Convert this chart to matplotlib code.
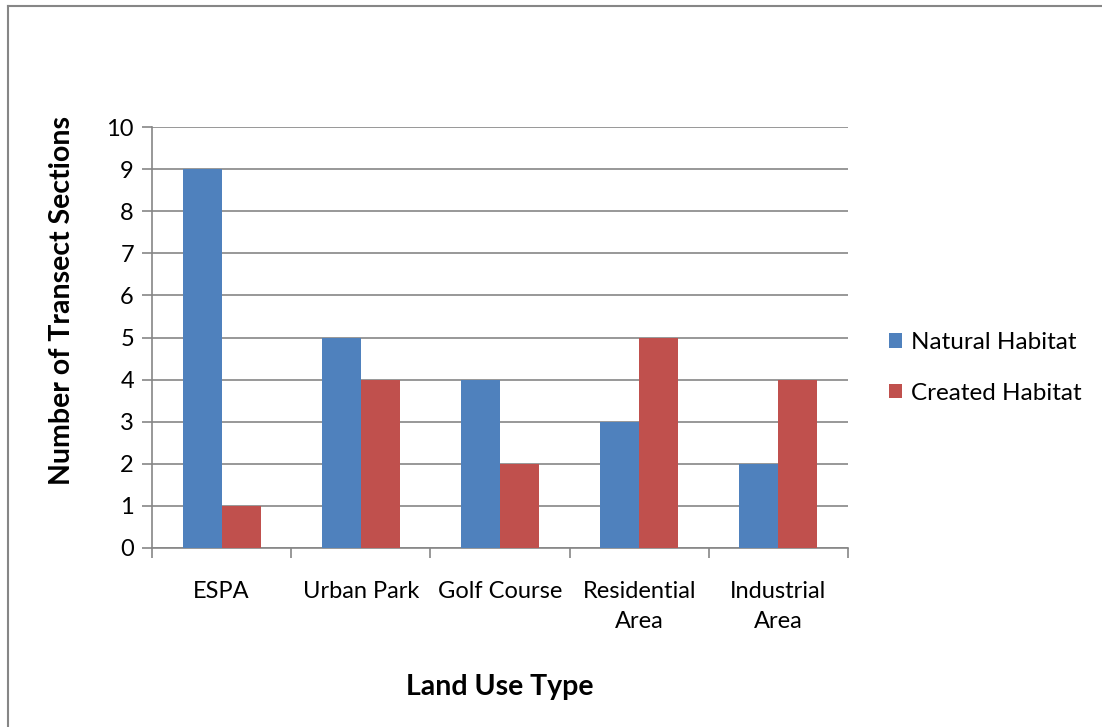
import matplotlib
matplotlib.use("Agg")
import matplotlib.pyplot as plt
from matplotlib.lines import Line2D
from matplotlib.patches import Patch
import numpy as np

plt.rcParams['font.family'] = ['Lato', 'DejaVu Sans']

categories = ["ESPA", "Urban Park", "Golf Course", "Residential\nArea", "Industrial\nArea"]
natural = [9, 5, 4, 3, 2]
created = [1, 4, 2, 5, 4]
series_names = ["Natural Habitat", "Created Habitat"]
y_ticks = list(range(0, 11))

blue = "#4F81BD"
red = "#C0504D"
grid_col = "#868686"

fig = plt.figure(figsize=(11.02, 7.27), dpi=100)
ax = fig.add_axes([152 / 1102, 179 / 727, 696 / 1102, 421 / 727])

x = np.arange(len(categories))
w = 0.28
ax.bar(x - w / 2, natural, width=w, color=blue, zorder=3)
ax.bar(x + w / 2, created, width=w, color=red, zorder=3)

ax.set_xlim(-0.5, len(categories) - 0.5)
ax.set_ylim(0, 10)
ax.set_yticks(y_ticks)
ax.yaxis.grid(True, color=grid_col, linewidth=1.2, zorder=0)
ax.tick_params(axis='y', length=7, width=1.2, color=grid_col, labelsize=17, pad=6)

# category labels sit between boundary ticks
ax.set_xticks(x)
ax.set_xticklabels(categories, fontsize=17, linespacing=1.5)
ax.tick_params(axis='x', length=0, pad=24)
ax.set_xticks(np.arange(-0.5, len(categories)), minor=True)
ax.tick_params(axis='x', which='minor', length=7, width=1.2, color=grid_col)
for lbl in ax.get_xticklabels():
    lbl.set_verticalalignment('top')

for side in ['top', 'right']:
    ax.spines[side].set_visible(False)
for side in ['left', 'bottom']:
    ax.spines[side].set_color(grid_col)
    ax.spines[side].set_linewidth(1.2)

ax.set_xlabel("Land Use Type", fontsize=20.5, fontweight='bold', labelpad=30)
ax.set_ylabel("Number of Transect Sections", fontsize=20.5, fontweight='bold')
ax.yaxis.set_label_coords(-0.111, 0.589)

handles = [Patch(facecolor=blue), Patch(facecolor=red)]
fig.legend(handles, series_names, loc='center left',
           bbox_to_anchor=(879 / 1102, 1 - 368 / 727), frameon=False,
           fontsize=17.5, handlelength=0.55, handleheight=0.55,
           handletextpad=0.35, labelspacing=1.2, borderaxespad=0)

# outer chart border
fig.add_artist(Line2D([7.5 / 1102, 7.5 / 1102], [0, 1 - 5.5 / 727],
                      transform=fig.transFigure, color=grid_col, linewidth=1.5))
fig.add_artist(Line2D([7.5 / 1102, 1], [1 - 5.5 / 727, 1 - 5.5 / 727],
                      transform=fig.transFigure, color=grid_col, linewidth=1.5))

fig.savefig("out.png", dpi=100, facecolor='white')
